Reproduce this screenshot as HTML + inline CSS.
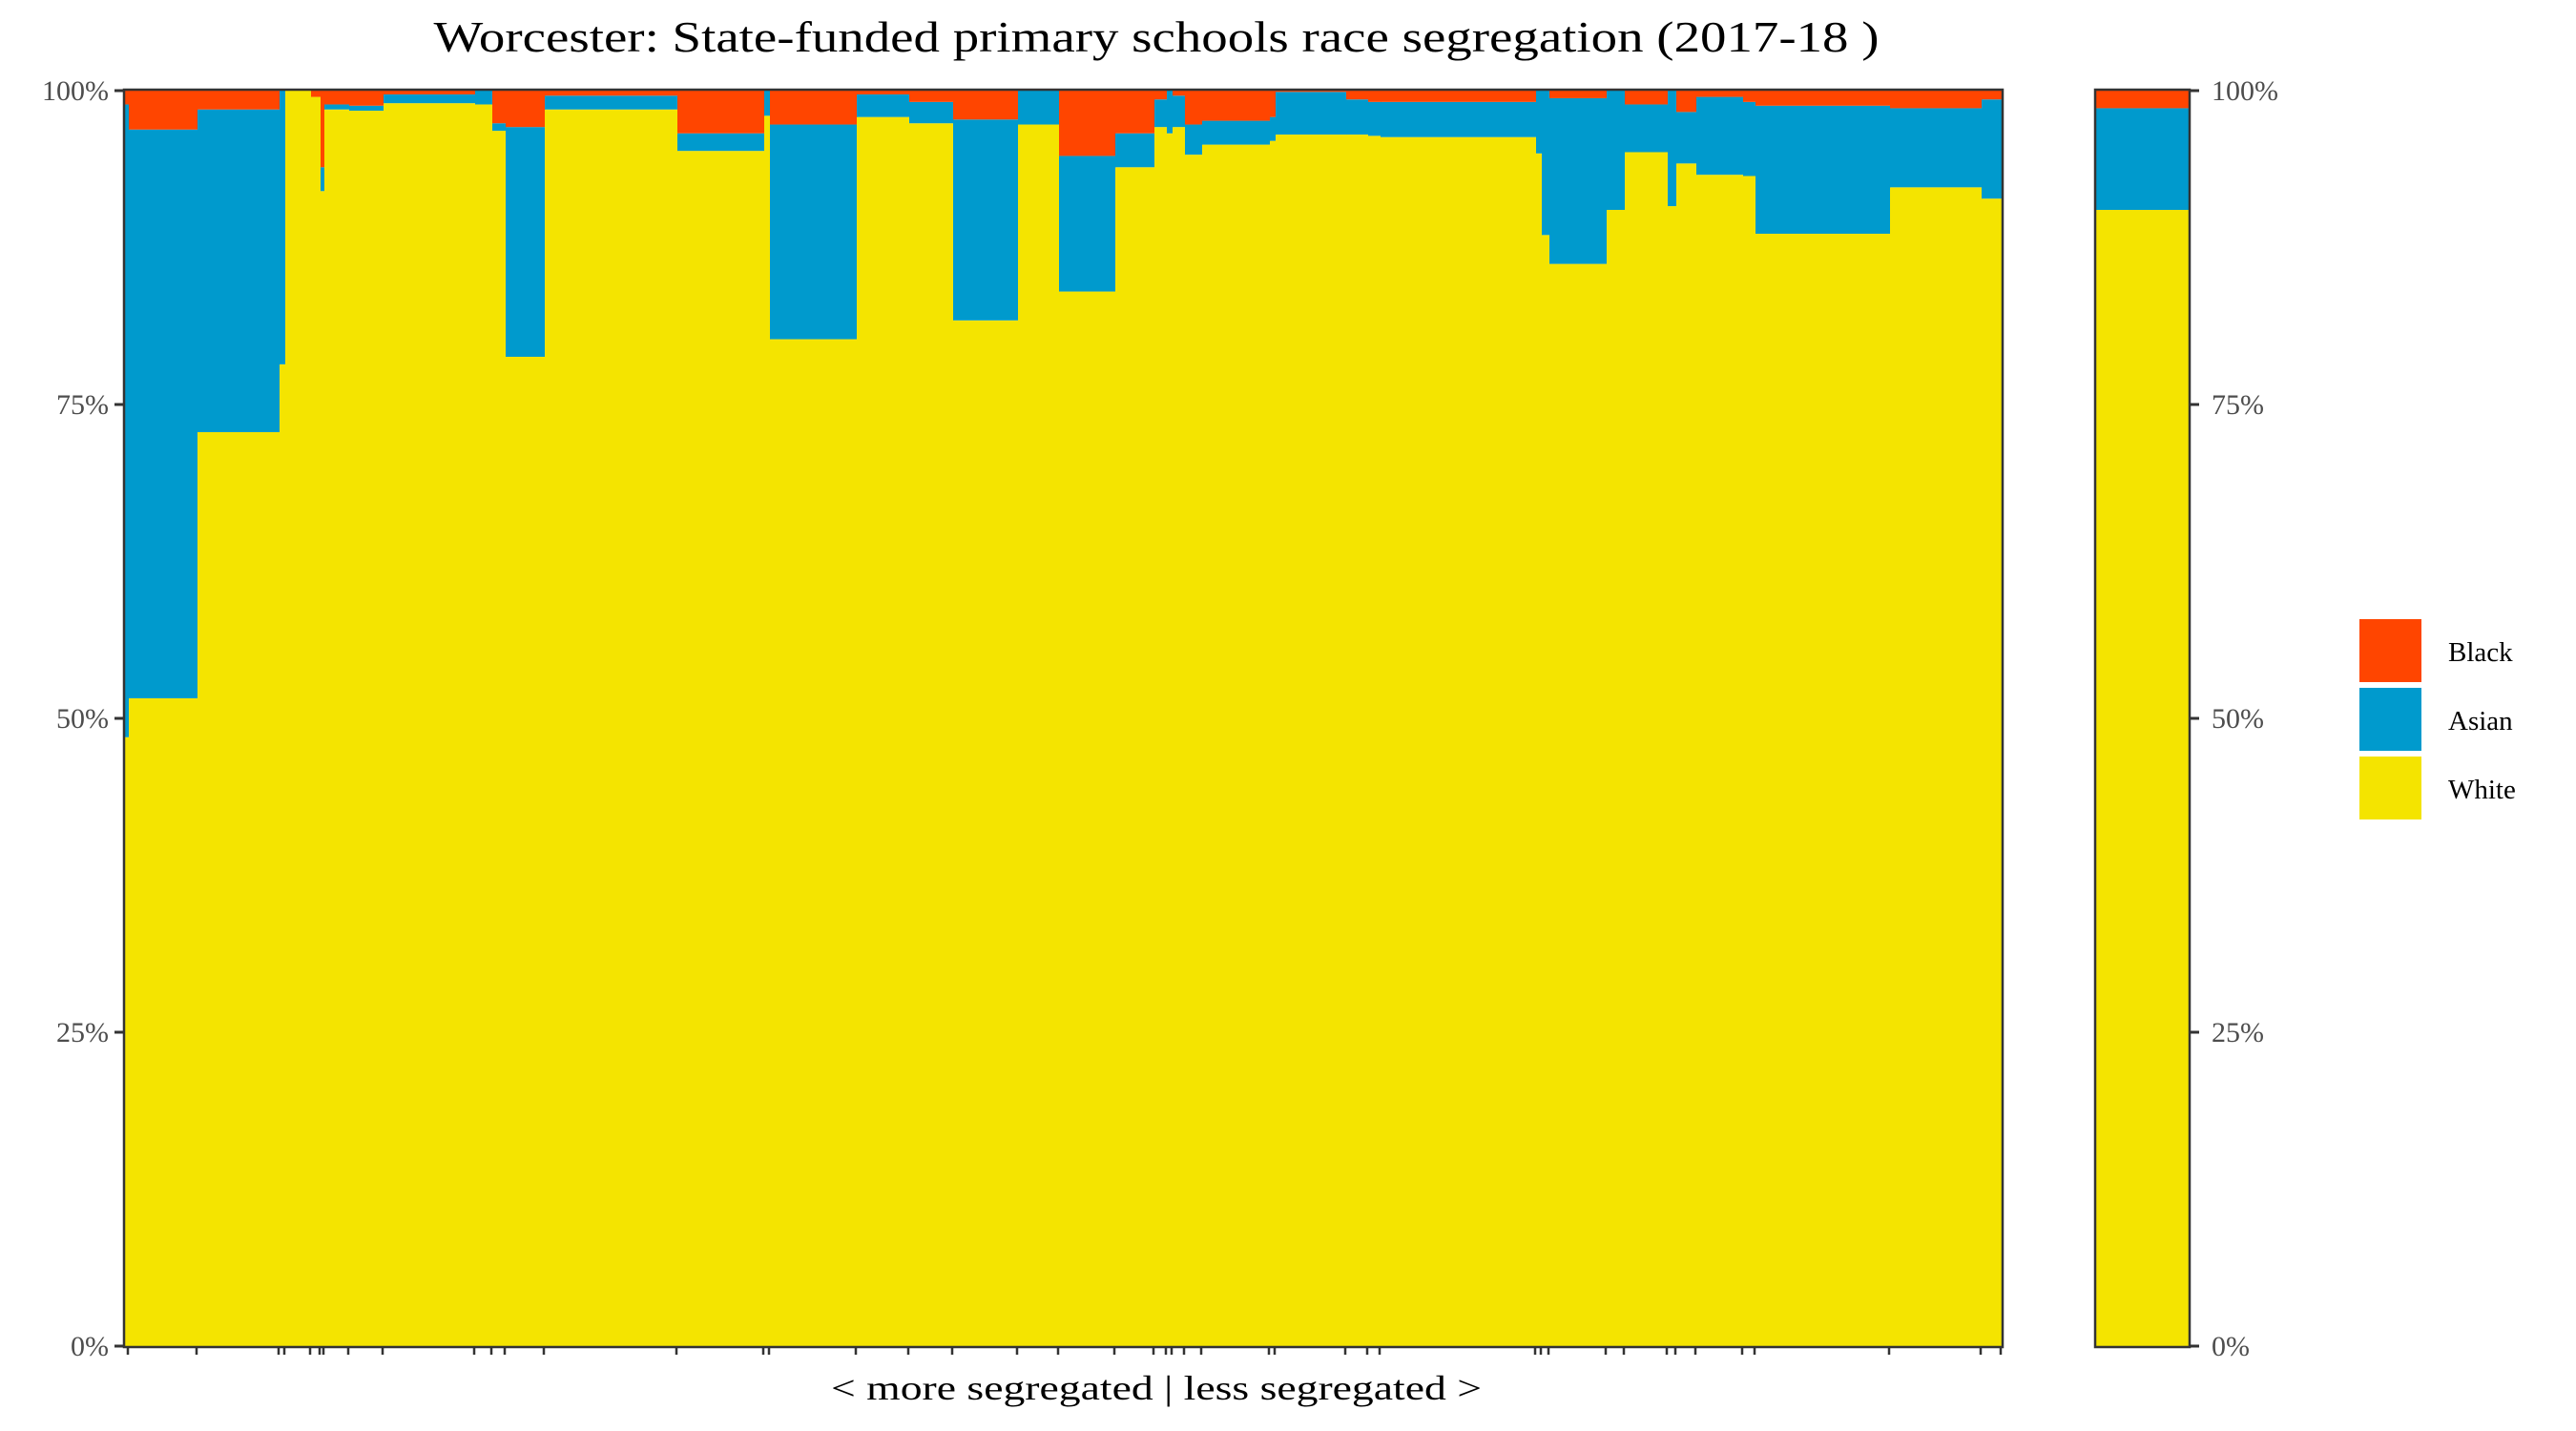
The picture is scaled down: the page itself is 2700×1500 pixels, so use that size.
<!DOCTYPE html>
<html><head><meta charset="utf-8"><style>
html,body{margin:0;padding:0;background:#fff;}
svg{display:block;font-family:"Liberation Serif",serif;}
</style></head><body>
<svg id="chart" width="2700" height="1500" viewBox="0 0 2700 1500">
<text x="1212" y="54" text-anchor="middle" font-size="46" fill="#000" textLength="1515" lengthAdjust="spacingAndGlyphs">Worcester: State-funded primary schools race segregation (2017-18 )</text>
<g id="bars"></g>
<g id="axes"></g>
<text x="1212" y="1467" text-anchor="middle" font-size="36" fill="#000" textLength="682" lengthAdjust="spacingAndGlyphs">&lt; more segregated | less segregated &gt;</text>
<g>
<rect x="2473" y="649" width="65" height="66" fill="#FF4500"/>
<rect x="2473" y="721" width="65" height="66" fill="#009ACD"/>
<rect x="2473" y="793" width="65" height="66" fill="#F4E400"/>
<text x="2566" y="693" font-size="29" fill="#000">Black</text>
<text x="2566" y="765" font-size="29" fill="#000">Asian</text>
<text x="2566" y="837" font-size="29" fill="#000">White</text>
</g>
</svg>
<script>
// school sizes (relative) and percentages
const schoolSizes = [4,72,86,6,27,10,4,26,36,96,18,14,41,139,91,6,91,55,46,68,43,59,41,13,6,13,18,71,6,74,23,13,163,6,8,60,19,45,9,21,49,13,141,96,21];
const whitePct = [48.5,51.6,72.8,78.2,100,99.5,92.0,98.5,98.4,99.0,98.9,96.8,78.8,98.5,95.2,98.0,80.2,97.9,97.4,81.7,97.3,84.0,93.9,97.1,96.6,97.1,94.9,95.7,96.0,96.5,96.5,96.4,96.3,95.0,88.5,86.2,90.5,95.1,90.8,94.2,93.3,93.2,88.6,92.3,91.4];
const asianPct = [50.4,45.3,25.7,21.8,0,0,1.9,0.4,0.4,0.7,1.1,0.6,18.3,1.1,1.4,2.0,17.1,1.8,1.7,16.0,2.7,10.8,2.7,2.2,3.4,2.5,2.4,1.9,1.9,3.4,2.8,2.7,2.8,5.0,11.5,13.2,9.5,3.8,9.2,4.1,6.2,5.9,10.2,6.3,7.9];
const blackPct = [1.1,3.1,1.5,0,0,0.5,6.1,1.1,1.2,0.3,0,2.6,2.9,0.4,3.4,0,2.7,0.3,0.9,2.3,0,5.2,3.4,0.7,0,0.4,2.7,2.4,2.1,0.1,0.7,0.9,0.9,0,0,0.6,0,1.1,0,1.7,0.5,0.9,1.2,1.4,0.7];
const totalWhite = [90.5];
const totalAsian = [8.1];
const totalBlack = [1.4];
const yTicks = [0,25,50,75,100];

const NS="http://www.w3.org/2000/svg";
const P={left:131,right:2098,top:95,bottom:1411};
const P2={left:2197,right:2294};
const y=v=>P.bottom-(v/100)*(P.bottom-P.top);
const totalSize=schoolSizes.reduce((a,b)=>a+b,0);
const xs=s=>s/totalSize*(P.right-P.left);
const C={white:"#F4E400",asian:"#009ACD",black:"#FF4500"};
const bars=document.getElementById('bars');
const axes=document.getElementById('axes');
function mk(tag,attrs,parent){const e=document.createElementNS(NS,tag);for(const k in attrs)e.setAttribute(k,attrs[k]);parent.appendChild(e);return e;}

function stack(x0,w,wv,av,bv,parent,idx){
  const sum=wv+av+bv; const nw=wv/sum*100, na=av/sum*100;
  const r1=mk('rect',{x:x0,y:y(nw),width:w+0.5,height:y(0)-y(nw),fill:C.white},parent);
  
  
  const r2=mk('rect',{x:x0,y:y(nw+na),width:w+0.5,height:y(nw)-y(nw+na),fill:C.asian},parent);
  
  
  const r3=mk('rect',{x:x0,y:y(100),width:w+0.5,height:y(nw+na)-y(100),fill:C.black},parent);
  
  
}
let cx=P.left;
schoolSizes.forEach((s,i)=>{
  const w=xs(s);
  stack(cx,w,whitePct[i],asianPct[i],blackPct[i],bars,i);
  const tx=cx+w-1;
  const t=mk('line',{x1:tx,x2:tx,y1:P.bottom,y2:P.bottom+9,stroke:"#333","stroke-width":2.5},axes);
  
  
  cx+=w;
});
stack(P2.left,P2.right-P2.left,totalWhite[0],totalAsian[0],totalBlack[0],bars,'total');

const b1=mk('rect',{x:P.left-1,y:P.top-1,width:P.right-P.left+2,height:P.bottom-P.top+2,fill:"none",stroke:"#333","stroke-width":2.5},axes);


const b2=mk('rect',{x:P2.left-1,y:P.top-1,width:P2.right-P2.left+2,height:P.bottom-P.top+2,fill:"none",stroke:"#333","stroke-width":2.5},axes);



yTicks.forEach(v=>{
  const yy=y(v);
  const l1=mk('line',{x1:P.left-11,x2:P.left-1,y1:yy,y2:yy,stroke:"#333","stroke-width":3},axes);
  
  
  const t1=mk('text',{x:P.left-17,y:yy+10,"text-anchor":"end","font-size":30,fill:"#4d4d4d"},axes);
  t1.textContent=v+'%';
  
  
  const l2=mk('line',{x1:P2.right+1,x2:P2.right+11,y1:yy,y2:yy,stroke:"#333","stroke-width":3},axes);
  
  
  const t2=mk('text',{x:P2.right+24,y:yy+10,"text-anchor":"start","font-size":30,fill:"#4d4d4d"},axes);
  t2.textContent=v+'%';
  
  
});
</script>
</body></html>
